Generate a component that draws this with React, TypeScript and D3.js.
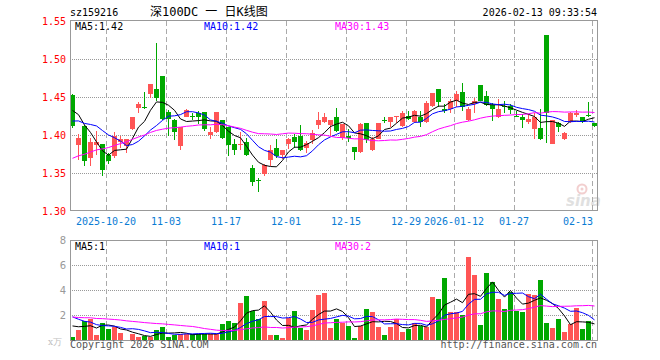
import React from 'react';
import * as d3 from 'd3';

const tickerCode = 'sz159216';
const chartTitle = '深100DC 一 日K线图';
const timestamp = '2026-02-13 09:33:54';
const copyrightText = 'Copyright 2026 SINA.COM';
const siteText = 'http://finance.sina.com.cn';
const volumeUnit = 'x万';

const opens = [
  1.453, 1.387, 1.412, 1.371, 1.387, 1.389, 1.374, 1.373, 1.392, 1.386,
  1.409, 1.436, 1.438, 1.454, 1.461, 1.478, 1.431, 1.421, 1.386, 1.425,
  1.426, 1.429, 1.431, 1.401, 1.404, 1.421, 1.411, 1.389, 1.388, 1.392,
  1.357, 1.341, 1.349, 1.368, 1.383, 1.374, 1.389, 1.398, 1.399, 1.384,
  1.394, 1.414, 1.418, 1.414, 1.424, 1.397, 1.400, 1.385, 1.378, 1.416,
  1.381, 1.396, 1.4205, 1.418, 1.424, 1.412, 1.426, 1.418, 1.424, 1.418,
  1.439, 1.461, 1.435, 1.435, 1.445, 1.457, 1.420, 1.441, 1.466, 1.452,
  1.440, 1.424, 1.439, 1.439, 1.426, 1.425, 1.418, 1.408, 1.410, 1.532,
  1.389, 1.416, 1.396, 1.418, 1.427, 1.425, 1.427, 1.416,
];
const highs = [
  1.455, 1.402, 1.414, 1.397, 1.406, 1.389, 1.377, 1.404, 1.400, 1.396,
  1.425, 1.444, 1.457, 1.468, 1.522, 1.478, 1.433, 1.422, 1.411, 1.435,
  1.429, 1.432, 1.431, 1.411, 1.431, 1.421, 1.411, 1.395, 1.405, 1.397,
  1.361, 1.344, 1.363, 1.387, 1.396, 1.381, 1.397, 1.402, 1.414, 1.393,
  1.407, 1.431, 1.430, 1.421, 1.436, 1.415, 1.409, 1.385, 1.416, 1.416,
  1.398, 1.417, 1.425, 1.424, 1.426, 1.432, 1.432, 1.433, 1.432, 1.445,
  1.456, 1.461, 1.441, 1.448, 1.459, 1.469, 1.437, 1.449, 1.466, 1.458,
  1.443, 1.448, 1.445, 1.442, 1.432, 1.428, 1.428, 1.430, 1.435, 1.532,
  1.421, 1.418, 1.404, 1.431, 1.433, 1.425, 1.444, 1.417,
];
const lows = [
  1.410, 1.368, 1.360, 1.360, 1.375, 1.347, 1.362, 1.370, 1.383, 1.377,
  1.407, 1.429, 1.435, 1.449, 1.446, 1.420, 1.399, 1.394, 1.381, 1.424,
  1.420, 1.415, 1.406, 1.395, 1.403, 1.396, 1.373, 1.374, 1.381, 1.373,
  1.334, 1.326, 1.347, 1.360, 1.370, 1.369, 1.382, 1.384, 1.380, 1.377,
  1.389, 1.408, 1.416, 1.400, 1.404, 1.394, 1.392, 1.368, 1.377, 1.390,
  1.380, 1.395, 1.417, 1.411, 1.417, 1.411, 1.420, 1.417, 1.411, 1.417,
  1.438, 1.437, 1.429, 1.429, 1.438, 1.432, 1.419, 1.430, 1.445, 1.439,
  1.419, 1.423, 1.429, 1.428, 1.424, 1.410, 1.415, 1.396, 1.394, 1.390,
  1.389, 1.404, 1.394, 1.417, 1.425, 1.417, 1.424, 1.411,
];
const closes = [
  1.412, 1.397, 1.367, 1.391, 1.391, 1.354, 1.367, 1.399, 1.395, 1.395,
  1.425, 1.441, 1.437, 1.468, 1.450, 1.422, 1.422, 1.404, 1.411, 1.433,
  1.425, 1.425, 1.409, 1.404, 1.431, 1.397, 1.387, 1.381, 1.389, 1.375,
  1.339, 1.340, 1.361, 1.381, 1.373, 1.381, 1.396, 1.392, 1.381, 1.390,
  1.403, 1.420, 1.425, 1.421, 1.406, 1.415, 1.397, 1.378, 1.415, 1.394,
  1.395, 1.416, 1.4195, 1.424, 1.426, 1.429, 1.422, 1.432, 1.418, 1.443,
  1.456, 1.444, 1.432, 1.445, 1.455, 1.437, 1.435, 1.446, 1.446, 1.440,
  1.435, 1.435, 1.438, 1.434, 1.425, 1.420, 1.422, 1.424, 1.395, 1.430,
  1.421, 1.411, 1.403, 1.430, 1.430, 1.418, 1.426, 1.413,
];
// volume in 万手
const volumes = [
  0.32, 0.88, 1.55, 1.76, 0.48, 1.44, 0.96, 1.09, 0.64, 0.08,
  0.56, 0.32, 0.37, 0.32, 0.83, 1.12, 0.32, 0.45, 0.51, 0.53,
  0.51, 0.53, 0.51, 0.51, 0.51, 1.36, 1.55, 1.44, 2.99, 3.6,
  2.37, 1.76, 3.15, 0.43, 0.48, 0.19, 1.81, 2.4, 0.99, 0.83,
  2.48, 3.68, 3.79, 0.99, 1.71, 1.44, 1.2, 0.24, 1.2, 2.56,
  2.32, 1.12, 0.48, 1.12, 1.76, 0.72, 0.96, 1.44, 1.2, 1.07,
  3.52, 3.36, 5.04, 2.32, 2.32, 2.08, 6.72, 5.28, 1.28, 5.44,
  4.72, 3.36, 2.56, 3.92, 2.4, 2.32, 3.76, 3.68, 4.88, 1.44,
  1.04, 1.76, 0.72, 1.36, 2.64, 0.96, 1.6, 0.08,
];
// sessions before the first visible candle (only used for the moving averages)
const priorCloses = [
  1.300, 1.305, 1.302, 1.308, 1.312, 1.315, 1.318, 1.320, 1.325, 1.326,
  1.350, 1.360, 1.365, 1.370, 1.375, 1.380, 1.385, 1.390, 1.400, 1.404,
  1.395, 1.400, 1.405, 1.410, 1.415, 1.425, 1.435, 1.440, 1.453,
];
const priorVolumes = [
  2.0, 2.1, 1.9, 2.2, 1.8, 2.0, 2.1, 1.9, 2.0, 1.94,
  1.6, 1.9, 1.5, 2.0, 1.8, 1.7, 1.6, 1.9, 1.8, 1.66,
  2.8, 3.2, 2.4, 2.5, 2.2, 1.2, 1.4, 1.5, 1.4,
];

const dateTickLabels = ['2025-10-20', '11-03', '11-17', '12-01', '12-15', '12-29', '2026-01-12', '01-27', '02-13'];
const dateTickIndex = [6, 16, 26, 36, 46, 56, 64, 74, 87];
const priceTicks = [1.3, 1.35, 1.4, 1.45, 1.5, 1.55];
const volumeTicks = [2, 4, 6, 8];
const maPeriods = [5, 10, 30];
const maColors = ['#000000', '#0000FF', '#FF00FF'];
const maLegendX = [75, 204, 335];

const UP = '#FF5555';
const DOWN = '#00A800';
const MONO = "'DejaVu Sans Mono', monospace";

function movingAverage(prior: number[], vals: number[], n: number): number[] {
  const all = prior.concat(vals);
  const off = prior.length;
  return vals.map((_, i) => d3.mean(all.slice(off + i - n + 1, off + i + 1)) as number);
}

export default function App() {
  const N = closes.length;
  const x = d3.scaleBand<number>().domain(d3.range(N)).range([70, 598]);
  const yP = d3.scaleLinear().domain([1.3, 1.55]).range([211.5, 21.5]);
  const yV = d3.scaleLinear().domain([0, 8]).range([340.5, 240.5]);
  const cx = (i: number) => (x(i) as number) + 2.5;

  const priceMAs = maPeriods.map((p) => movingAverage(priorCloses, closes, p));
  const volMAs = maPeriods.map((p) => movingAverage(priorVolumes, volumes, p));

  const lineP = d3.line<number>().x((_, i) => cx(i)).y((d) => yP(d));
  const lineV = d3.line<number>().x((_, i) => cx(i)).y((d) => yV(d));

  return (
    <svg width={660} height={360} style={{ position: 'absolute', left: 0, top: 0, background: '#fff' }}>
      <defs>
        <clipPath id="clipP"><rect x={70} y={21} width={527} height={190} /></clipPath>
        <clipPath id="clipV"><rect x={70} y={241} width={527} height={100} /></clipPath>
      </defs>

      {/* header */}
      <text x={70} y={16} fontFamily={MONO} fontSize={10} fill="#000">{tickerCode}</text>
      <text x={150} y={16} fontFamily={`${MONO}, 'Noto Sans CJK SC'`} fontSize={12} fill="#000">{chartTitle}</text>
      <text x={597} y={16} fontFamily={MONO} fontSize={10} fill="#000" textAnchor="end">{timestamp}</text>

      {/* watermark */}
      <g opacity={0.55}>
        <circle cx={582} cy={189} r={4.5} fill="none" stroke="#e8a8a8" strokeWidth={2} />
        <circle cx={582} cy={189} r={1.5} fill="#e8a8a8" />
        <text x={566} y={206} fontFamily="'DejaVu Sans', sans-serif" fontWeight="bold" fontStyle="italic" fontSize={15} fill="#c8c8c8">sina</text>
      </g>

      {/* gridlines main */}
      {priceTicks.filter((t) => t > 1.3 && t < 1.55).map((t) => (
        <line key={'hp' + t} x1={70} x2={597} y1={yP(t)} y2={yP(t)} stroke="#999" strokeDasharray="1,1" />
      ))}
      {volumeTicks.filter((t) => t < 8).map((t) => (
        <line key={'hv' + t} x1={70} x2={597} y1={yV(t)} y2={yV(t)} stroke="#999" strokeDasharray="1,1" />
      ))}
      {dateTickIndex.map((i) => (
        <g key={'vg' + i}>
          <line x1={(x(i) as number) + 0.5} x2={(x(i) as number) + 0.5} y1={21} y2={210} stroke="#aaa" strokeDasharray="5,3" />
          <line x1={(x(i) as number) + 0.5} x2={(x(i) as number) + 0.5} y1={241} y2={340} stroke="#aaa" strokeDasharray="5,3" />
        </g>
      ))}

      {/* candles */}
      <g clipPath="url(#clipP)" shapeRendering="crispEdges">
        {closes.map((c, i) => {
          const o = opens[i];
          const col = c > o ? UP : DOWN;
          const top = yP(Math.max(o, c));
          const bot = yP(Math.min(o, c));
          return (
            <g key={'c' + i}>
              <line x1={cx(i)} x2={cx(i)} y1={yP(highs[i])} y2={yP(lows[i])} stroke={col} />
              <rect x={x(i)} y={top} width={5} height={Math.max(1, bot - top)} fill={col} />
            </g>
          );
        })}
      </g>
      <g clipPath="url(#clipP)">
        {priceMAs.map((m, k) => (
          <path key={'pm' + k} d={lineP(m) as string} fill="none" stroke={maColors[k]} strokeWidth={1} />
        ))}
      </g>

      {/* volume */}
      <g clipPath="url(#clipV)" shapeRendering="crispEdges">
        {volumes.map((v, i) => (
          <rect key={'v' + i} x={x(i)} y={yV(v)} width={5} height={yV(0) - yV(v)} fill={closes[i] > opens[i] ? UP : DOWN} />
        ))}
      </g>
      <g clipPath="url(#clipV)">
        {volMAs.map((m, k) => (
          <path key={'vm' + k} d={lineV(m) as string} fill="none" stroke={maColors[k]} strokeWidth={1} />
        ))}
      </g>

      {/* frames */}
      <rect x={70.5} y={20.5} width={527} height={190} fill="none" stroke="#999" />
      <rect x={70.5} y={240.5} width={527} height={100} fill="none" stroke="#999" />

      {/* legends */}
      {maPeriods.map((p, k) => (
        <text key={'lp' + p} x={maLegendX[k]} y={30} fontFamily={MONO} fontSize={10} fill={maColors[k]}>
          {`MA${p}:${priceMAs[k][N - 1].toFixed(2)}`}
        </text>
      ))}
      {maPeriods.map((p, k) => (
        <text key={'lv' + p} x={maLegendX[k]} y={250} fontFamily={MONO} fontSize={10} fill={maColors[k]}>
          {`MA${p}:${Math.floor(volMAs[k][N - 1])}`}
        </text>
      ))}

      {/* axes labels */}
      {priceTicks.map((t) => (
        <text key={'pt' + t} x={66} y={yP(t)} dy="0.35em" fontFamily={MONO} fontSize={10} fill="#FF0000" textAnchor="end">
          {t.toFixed(2)}
        </text>
      ))}
      {volumeTicks.map((t) => (
        <text key={'vt' + t} x={66} y={yV(t)} dy="0.35em" fontFamily="'DejaVu Sans', sans-serif" fontSize={10} fill="#999" textAnchor="end">
          {t}
        </text>
      ))}
      <text x={48} y={345} fontFamily="'DejaVu Serif', serif" fontSize={9} fill="#c0c0c0">{volumeUnit}</text>
      {dateTickIndex.map((i, k) => {
        const last = k === dateTickIndex.length - 1;
        return (
          <text key={'dt' + i} x={last ? 593 : (x(i) as number)} y={225} fontFamily={MONO} fontSize={10} fill="#0A7CD4" textAnchor={last ? 'end' : 'middle'}>
            {dateTickLabels[k]}
          </text>
        );
      })}

      {/* footer */}
      <text x={70} y={348} fontFamily={MONO} fontSize={10} fill="#555">{copyrightText}</text>
      <text x={597} y={348} fontFamily={MONO} fontSize={10} fill="#555" textAnchor="end">{siteText}</text>
    </svg>
  );
}
